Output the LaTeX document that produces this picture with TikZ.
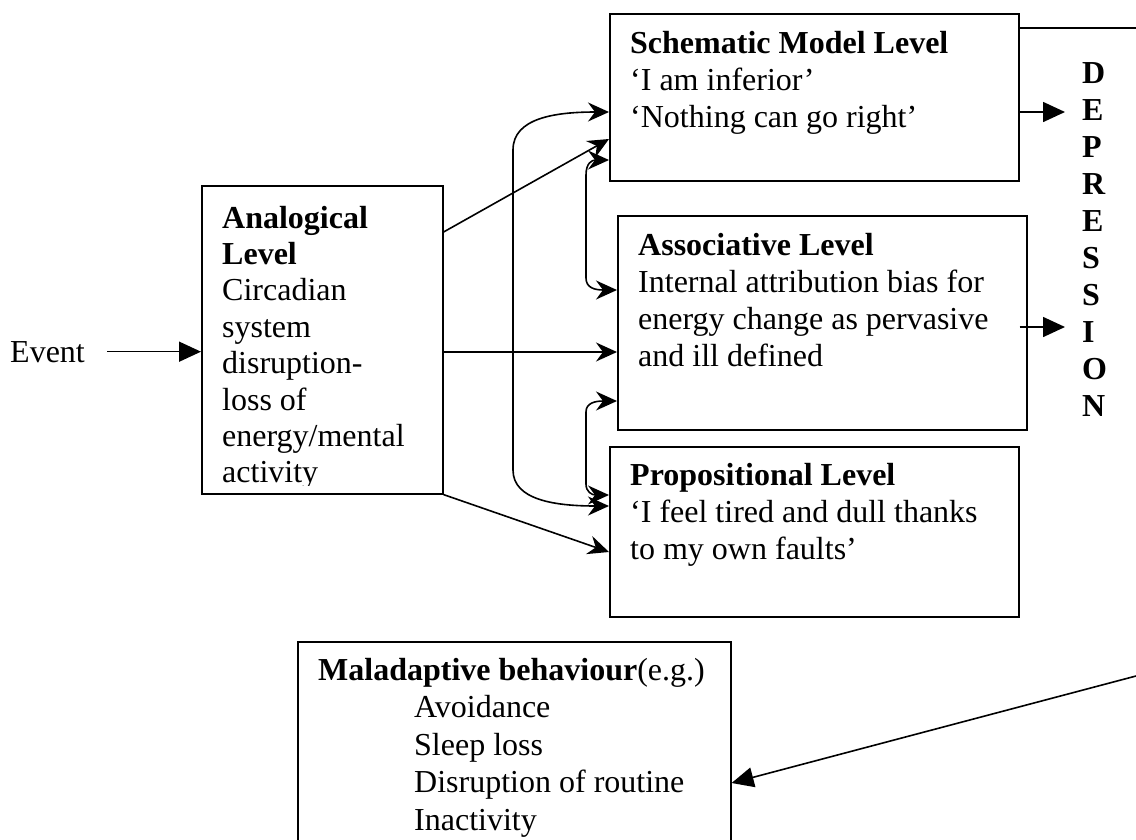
\documentclass[tikz,border=0pt]{standalone}
\usepackage{fontspec}
\setmainfont{Liberation Serif}
\usetikzlibrary{arrows.meta}
\tikzset{
 box/.style={draw, line width=1.6pt, inner sep=0pt, anchor=north west},
 txt/.style={inner sep=0pt, anchor=north west, align=left, font=\fontsize{32}{37}\selectfont},
 conn/.style={line width=1.6pt},
 stl/.style={conn, -{Stealth[length=21pt,width=19pt,inset=7pt]}},
 dstl/.style={conn, {Stealth[length=21pt,width=19pt,inset=7pt]}-{Stealth[length=21pt,width=19pt,inset=7pt]}},
 tri/.style={conn, -{Triangle[length=22pt,width=20pt]}},
}
\begin{document}
\begin{tikzpicture}[x=1pt,y=-1pt]
\useasboundingbox (0,0) rectangle (1136,839);
\clip (0,0) rectangle (1136,839);
% boxes
\node[box, minimum width=241pt, minimum height=308pt] (analog) at (201,185) {};
\node[box, minimum width=409pt, minimum height=167pt] (schem) at (609,13) {};
\node[box, minimum width=409pt, minimum height=214pt] (assoc) at (617,215) {};
\node[box, minimum width=409pt, minimum height=170pt] (prop) at (609,446) {};
\node[box, minimum width=433pt, minimum height=260pt] (mal) at (297,641) {};
% texts
\node[txt, anchor=base west] (event) at (10,362) {Event};
\node[txt] (schemtxt) at (630,27.1) {\strut\textbf{Schematic Model Level}\\‘I am inferior’\\‘Nothing can go right’};
\node[txt] (assoctxt) at (638,229.1) {\strut\textbf{Associative Level}\\Internal attribution bias for\\energy change as pervasive\\and ill defined};
\node[txt] (proptxt) at (630,459.1) {\strut\textbf{Propositional Level}\\‘I feel tired and dull thanks\\to my own faults’};
\begin{scope}
\clip (201,185) rectangle (442,485);
\node[txt, font=\fontsize{32}{36.4}\selectfont] (analogtxt) at (222,202.5) {\strut\textbf{Analogical}\\\textbf{Level}\\Circadian\\system\\disruption-\\loss of\\energy/mental\\activity};
\end{scope}
\node[txt, font=\fontsize{32}{37.5}\selectfont] (maltxt) at (318,653.75) {\strut\textbf{Maladaptive behaviour}(e.g.)\\\hspace*{96pt}Avoidance\\\hspace*{96pt}Sleep loss\\\hspace*{96pt}Disruption of routine\\\hspace*{96pt}Inactivity};
\node[txt, font=\fontsize{32}{37}\selectfont\bfseries] (dep) at (1082,57.1) {\strut D\\E\\P\\R\\E\\S\\S\\I\\O\\N};
% connectors
\draw[tri] ([xshift=22pt]event.east) -- (analog.west |- event.east);
\draw[stl] ([yshift=-47pt]analog.north east) -- ([yshift=-126pt]schem.north west);
\draw[stl] ([yshift=-167pt]analog.north east) -- ([yshift=-137pt]assoc.north west);
\draw[stl] (analog.south east) -- ([yshift=-106pt]prop.north west);
\draw[dstl] ([yshift=-99pt]schem.north west) .. controls (555,112) and (513,118) .. (513,150) -- (513,470) .. controls (513,500) and (555,506) .. ([yshift=-60pt]prop.north west);
\draw[dstl] ([yshift=-147pt]schem.north west) .. controls (592,160) and (586,163) .. (586,175) -- (586,278) .. controls (586,288) and (595,290) .. ([yshift=-75pt]assoc.north west);
\draw[dstl] ([yshift=-186pt]assoc.north west) .. controls (595,401) and (586,403) .. (586,412) -- (586,484) .. controls (586,492) and (592,495) .. ([yshift=-49pt]prop.north west);
\coordinate (dep1) at (1065,112);
\coordinate (dep2) at (1065,327);
\coordinate (edge1) at (1136,28);
\coordinate (edge2) at (1136,676);
\draw[tri] ([yshift=-99pt]schem.north east) -- (dep1);
\draw[tri] ([xshift=-8pt,yshift=-112pt]assoc.north east) -- (dep2);
\draw[conn] ([yshift=-15pt]schem.north east) -- (edge1);
\draw[tri] (edge2) -- ([yshift=-142pt]mal.north east);
\end{tikzpicture}
\end{document}
